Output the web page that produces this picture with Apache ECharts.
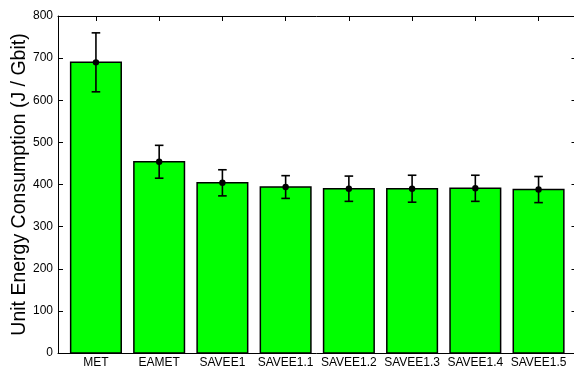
<!DOCTYPE html>
<html>
<head>
<meta charset="utf-8">
<script src="https://cdn.jsdelivr.net/npm/echarts@6/dist/echarts.min.js"></script>
<style>
  html, body { margin: 0; padding: 0; background: #fff; }
  #chart { width: 574px; height: 371px; }
</style>
</head>
<body>
<div id="chart"></div>
<script>
// Scheme names along the x axis
const categories = ['MET', 'EAMET', 'SAVEE1', 'SAVEE1.1', 'SAVEE1.2', 'SAVEE1.3', 'SAVEE1.4', 'SAVEE1.5'];
// Mean unit energy consumption (J / Gbit)
const means = [690, 454, 404, 394, 390, 390, 391, 388];
// Half-length of each error bar (J / Gbit)
const errors = [70, 39, 31, 27, 30, 32, 31, 31];
// Y-axis tick values
const yTicks = [0, 100, 200, 300, 400, 500, 600, 700, 800];

const positions = categories.map((_, i) => i + 1);
const barData = positions.map((p, i) => [p, means[i]]);
const errData = positions.map((p, i) => [p, means[i] - errors[i], means[i] + errors[i], means[i]]);

const FONT = 'Liberation Sans, Arial, Helvetica, sans-serif';
const BAR_HALF = 0.4;

const chart = echarts.init(document.getElementById('chart'), null, { renderer: 'canvas' });

const xCommon = {
  type: 'value',
  min: 0.4,
  max: 8.6,
  splitLine: { show: false },
  axisLine: { show: true, onZero: false, lineStyle: { color: '#000', width: 1 } },
  axisTick: { show: true, inside: true, length: 5, customValues: positions, lineStyle: { color: '#000' } }
};
const yCommon = {
  type: 'value',
  min: 0,
  max: 800,
  interval: 100,
  splitLine: { show: false },
  axisLine: { show: true, onZero: false, lineStyle: { color: '#000', width: 1 } },
  axisTick: { show: true, inside: true, length: 5, lineStyle: { color: '#000' } }
};

chart.setOption({
  animation: false,
  backgroundColor: '#fff',
  grid: { left: 58, top: 16, width: 518.5, height: 337, containLabel: false, outerBoundsMode: 'none' },
  xAxis: [
    Object.assign({}, xCommon, {
      position: 'bottom',
      axisLabel: {
        show: true,
        customValues: positions,
        formatter: v => categories[Math.round(v) - 1] || '',
        color: '#000',
        fontFamily: FONT,
        fontSize: 12,
        margin: 4
      }
    }),
    Object.assign({}, xCommon, { position: 'top', axisLabel: { show: false } })
  ],
  yAxis: [
    Object.assign({}, yCommon, {
      position: 'left',
      name: 'Unit Energy Consumption (J / Gbit)',
      nameLocation: 'middle',
      nameGap: 28,
      nameMoveOverlap: false,
      nameTextStyle: { color: '#000', fontFamily: FONT, fontSize: 19.5 },
      axisLabel: {
        show: true,
        color: '#000',
        fontFamily: FONT,
        fontSize: 12,
        margin: 5,
        customValues: yTicks
      }
    }),
    Object.assign({}, yCommon, { position: 'right', axisLabel: { show: false } })
  ],
  series: [
    {
      type: 'custom',
      name: 'bars',
      xAxisIndex: 0,
      yAxisIndex: 0,
      data: barData,
      z: 2,
      renderItem: (params, api) => {
        const x = api.value(0);
        const y = api.value(1);
        const p0 = api.coord([x - BAR_HALF, y]);
        const p1 = api.coord([x + BAR_HALF, 0]);
        return {
          type: 'rect',
          shape: { x: p0[0], y: p0[1], width: p1[0] - p0[0], height: p1[1] - p0[1] },
          style: { fill: '#00ff00', stroke: '#000', lineWidth: 1.5 }
        };
      }
    },
    {
      type: 'custom',
      name: 'errors',
      xAxisIndex: 0,
      yAxisIndex: 0,
      data: errData,
      z: 3,
      renderItem: (params, api) => {
        const x = api.value(0);
        const lo = api.coord([x, api.value(1)]);
        const hi = api.coord([x, api.value(2)]);
        const mid = api.coord([x, api.value(3)]);
        const cap = 4.3;
        const lineStyle = { stroke: '#000', lineWidth: 1.6 };
        return {
          type: 'group',
          children: [
            { type: 'line', shape: { x1: lo[0], y1: lo[1], x2: hi[0], y2: hi[1] }, style: lineStyle },
            { type: 'line', shape: { x1: hi[0] - cap, y1: hi[1], x2: hi[0] + cap, y2: hi[1] }, style: lineStyle },
            { type: 'line', shape: { x1: lo[0] - cap, y1: lo[1], x2: lo[0] + cap, y2: lo[1] }, style: lineStyle },
            { type: 'circle', shape: { cx: mid[0], cy: mid[1], r: 3.2 }, style: { fill: '#000' } }
          ]
        };
      }
    }
  ]
});
</script>
</body>
</html>
